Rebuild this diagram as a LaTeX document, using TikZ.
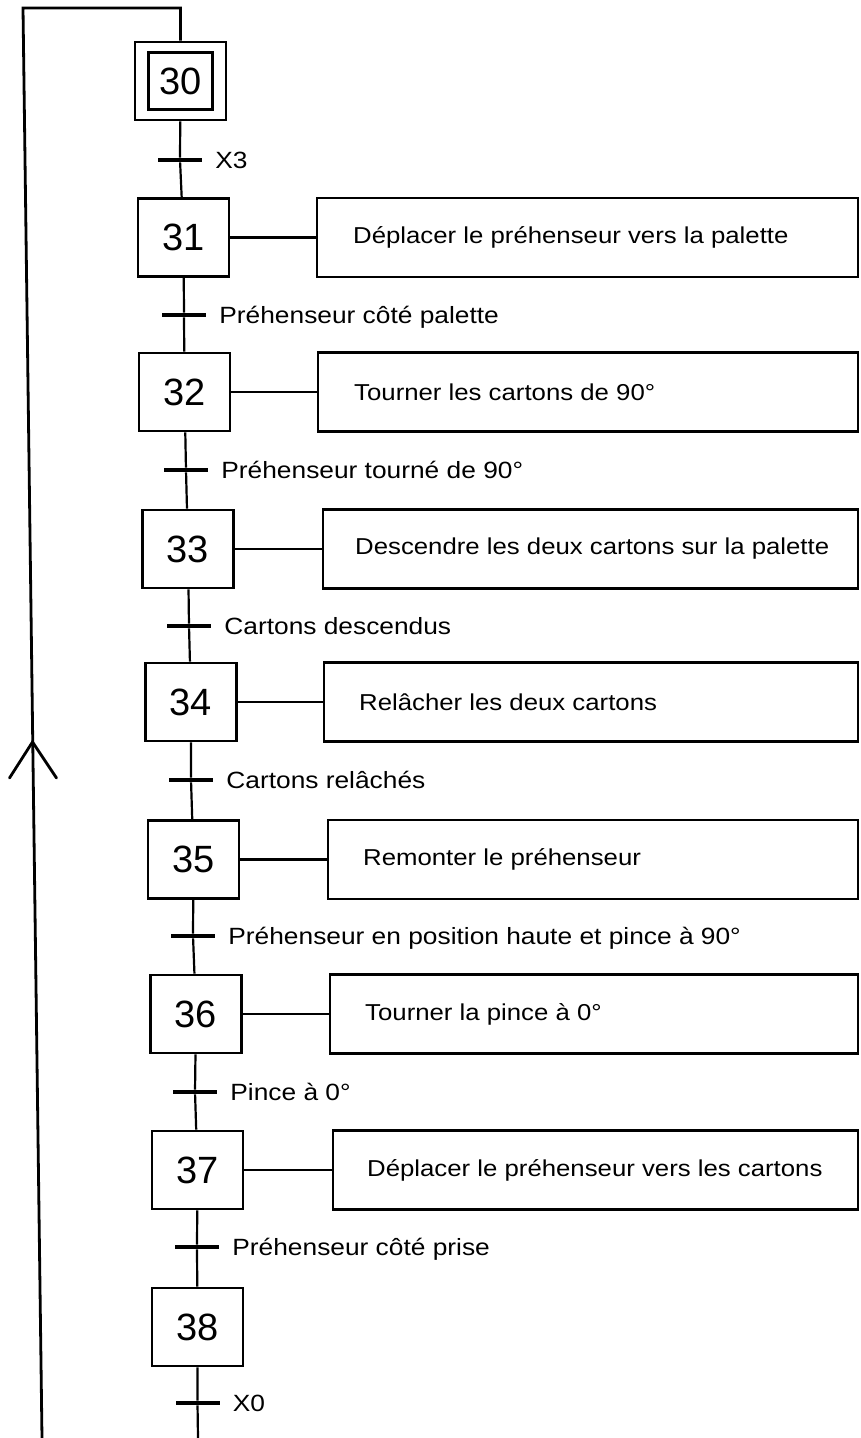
\documentclass[tikz,border=0pt]{standalone}
\usepackage{fontspec}
\setmainfont{Liberation Sans}
\newfontfamily\lblfont[FakeStretch=1.12]{Liberation Sans}
\usetikzlibrary{positioning}
\begin{document}
\begin{tikzpicture}[x=1pt,y=-1pt,
  stepbox/.style={draw, line width=2.6pt, minimum width=91pt, minimum height=78pt, inner sep=0pt, font=\fontsize{38}{38}\selectfont},
  innerbox/.style={draw, line width=2.6pt, minimum width=64pt, minimum height=57pt, inner sep=0pt, font=\fontsize{38}{38}\selectfont},
  trbar/.style={fill=black, minimum width=44pt, minimum height=4.5pt, inner sep=0pt},
  trlabel/.style={anchor=base west, inner sep=0pt, xshift=13pt, yshift=-8pt, font=\lblfont\fontsize{23.5}{23.5}\selectfont},
  actbox/.style={draw, line width=2.4pt, anchor=west, minimum height=79pt, inner sep=0pt, font=\lblfont\fontsize{23}{23}\selectfont},
  link/.style={line width=2.2pt},
  loopline/.style={line width=2.8pt}
]
\fill[white] (0,0) rectangle (860,1438);
\useasboundingbox (0,0) rectangle (860,1438);

% steps
\node[stepbox] (s30) at (180.5,81) {};
\node[innerbox] (s30i) at (180.5,81) {30};
\node[stepbox] (s31) at (183.5,237.5) {31};
\node[stepbox] (s32) at (184.5,392) {32};
\node[stepbox] (s33) at (188,549) {33};
\node[stepbox] (s34) at (191,702) {34};
\node[stepbox] (s35) at (193.5,859.5) {35};
\node[stepbox] (s36) at (196,1014) {36};
\node[stepbox] (s37) at (197.5,1170) {37};
\node[stepbox] (s38) at (197.5,1327) {38};

% transitions
\node[trbar] (t30) at (180,160) {};
\node[trbar] (t31) at (184,315) {};
\node[trbar] (t32) at (186,470) {};
\node[trbar] (t33) at (189,626) {};
\node[trbar] (t34) at (191,780) {};
\node[trbar] (t35) at (193,936) {};
\node[trbar] (t36) at (195,1092) {};
\node[trbar] (t37) at (197,1247) {};
\node[trbar] (t38) at (197.5,1403) {};

\node[trlabel] (l30) at (t30.east) {X3};
\node[trlabel] (l31) at (t31.east) {Préhenseur côté palette};
\node[trlabel] (l32) at (t32.east) {Préhenseur tourné de 90°};
\node[trlabel] (l33) at (t33.east) {Cartons descendus};
\node[trlabel] (l34) at (t34.east) {Cartons relâchés};
\node[trlabel] (l35) at (t35.east) {Préhenseur en position haute et pince à 90°};
\node[trlabel] (l36) at (t36.east) {Pince à 0°};
\node[trlabel] (l37) at (t37.east) {Préhenseur côté prise};
\node[trlabel] (l38) at (t38.east) {X0};

% actions
\node[actbox] (a31) at (316,237.5) {\makebox[541pt][l]{\hspace{36pt}Déplacer le préhenseur vers la palette}};
\node[actbox] (a32) at (317,392) {\makebox[540pt][l]{\hspace{36pt}Tourner les cartons de 90°}};
\node[actbox] (a33) at (322,549) {\makebox[535pt][l]{\hspace{32pt}Descendre les deux cartons sur la palette}};
\node[actbox] (a34) at (323,702) {\makebox[534pt][l]{\hspace{35pt}Relâcher les deux cartons}};
\node[actbox] (a35) at (327,859.5) {\makebox[530pt][l]{\hspace{35pt}Remonter le préhenseur}};
\node[actbox] (a36) at (329,1014) {\makebox[528pt][l]{\hspace{35pt}Tourner la pince à 0°}};
\node[actbox] (a37) at (332,1170) {\makebox[525pt][l]{\hspace{34pt}Déplacer le préhenseur vers les cartons}};

% sequence links
\draw[link] (s30) -- (t30) -- (s31);
\draw[link] (s31) -- (t31) -- (s32);
\draw[link] (s32) -- (t32) -- (s33);
\draw[link] (s33) -- (t33) -- (s34);
\draw[link] (s34) -- (t34) -- (s35);
\draw[link] (s35) -- (t35) -- (s36);
\draw[link] (s36) -- (t36) -- (s37);
\draw[link] (s37) -- (t37) -- (s38);
\coordinate (bend) at (198,1438);
\draw[link] (s38) -- (t38) -- (bend);

% action links
\draw[link] (s31) -- (a31);
\draw[link] (s32) -- (a32);
\draw[link] (s33) -- (a33);
\draw[link] (s34) -- (a34);
\draw[link] (s35) -- (a35);
\draw[link] (s36) -- (a36);
\draw[link] (s37) -- (a37);

% loop back
\coordinate (lb) at (42,1438);
\coordinate (lt) at (23,8);
\coordinate (lr) at (180.5,8);
\coordinate (ah) at (32.5,742);
\draw[loopline] (lb) -- (lt) -- (lr) -- (s30);
\draw[loopline, line cap=round] (ah) ++(-23,36) -- (ah) -- ++(24,36);
\end{tikzpicture}
\end{document}
